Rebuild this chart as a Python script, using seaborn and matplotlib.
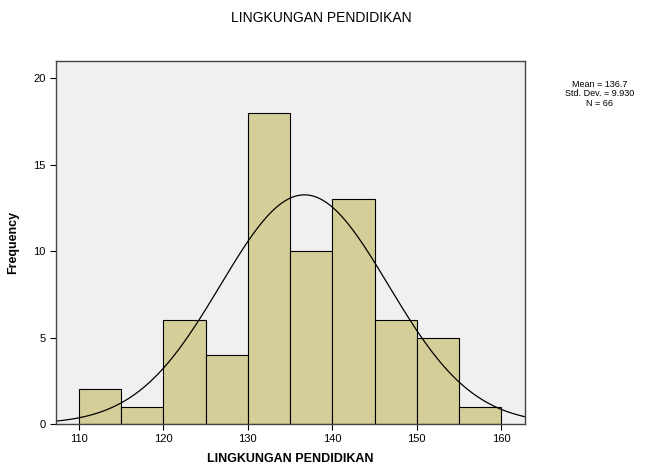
import matplotlib
matplotlib.use("Agg")
import matplotlib.pyplot as plt
import numpy as np
import pandas as pd
import seaborn as sns

# bin edges (width 5) and counts
bin_left = [110, 115, 120, 125, 130, 135, 140, 145, 150, 155]
counts = [2, 1, 6, 4, 18, 10, 13, 6, 5, 1]
mean_val = 136.7
std_val = 9.930
n_val = 66
x_ticks = [110, 120, 130, 140, 150, 160]
y_ticks = [0, 5, 10, 15, 20]

sns.set_style("white")
plt.rcParams['font.family'] = ['Liberation Sans', 'DejaVu Sans']
plt.rcParams['text.color'] = 'black'
plt.rcParams['axes.labelcolor'] = 'black'
plt.rcParams['xtick.color'] = 'black'
plt.rcParams['ytick.color'] = 'black'

df = pd.DataFrame({'score': bin_left, 'count': counts})
edges = bin_left + [bin_left[-1] + 5]

fig = plt.figure(figsize=(6.5, 4.72), dpi=100)
ax = fig.add_axes([56 / 650, 1 - 424 / 472, (525 - 56) / 650, (424 - 61) / 472])
ax.set_facecolor('#f0f0f0')

sns.histplot(data=df, x='score', weights='count', bins=edges, ax=ax,
             color='#d4cf98', edgecolor='black', linewidth=0.8, alpha=1)

# normal curve scaled to counts
xs = np.linspace(107.3, 162.8, 300)
ys = n_val * 5 / (std_val * np.sqrt(2 * np.pi)) * np.exp(-0.5 * ((xs - mean_val) / std_val) ** 2)
sns.lineplot(x=xs, y=ys, ax=ax, color='black', linewidth=0.9)

ax.set_xlim(107.3, 162.8)
ax.set_ylim(0, 21.0)
ax.set_xticks(x_ticks)
ax.set_yticks(y_ticks)
ax.tick_params(axis='both', labelsize=8, direction='out', length=4, width=0.8,
               color='black', bottom=True, left=True)
for s in ax.spines.values():
    s.set_color('#444444')
    s.set_linewidth(1.0)

ax.set_xlabel('LINGKUNGAN PENDIDIKAN', fontsize=9, fontweight='bold', labelpad=6)
ax.set_ylabel('Frequency', fontsize=9, fontweight='bold', labelpad=10)

fig.text(321 / 650, 1 - 18 / 472, 'LINGKUNGAN PENDIDIKAN', ha='center', va='center', fontsize=10)
fig.text(600 / 650, 1 - 94 / 472, f'Mean = {mean_val}\nStd. Dev. = {std_val:.3f}\nN = {n_val}',
         ha='center', va='center', fontsize=6.5, linespacing=1.1)

fig.savefig('out.png', dpi=100)
